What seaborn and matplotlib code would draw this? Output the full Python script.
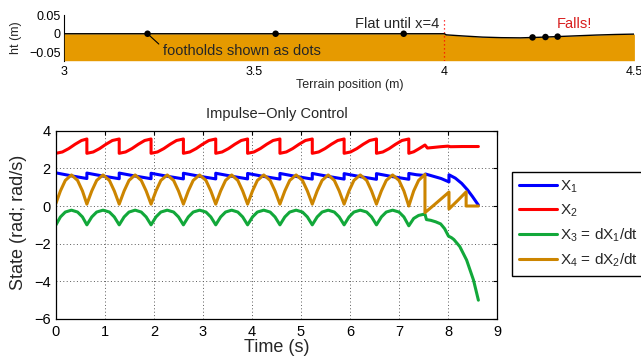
import matplotlib
matplotlib.use("Agg")
import matplotlib.pyplot as plt
import seaborn as sns

# ---------------- terrain panel data ----------------
terrain_x = [3.00, 4.00, 4.005, 4.05, 4.10, 4.15, 4.20, 4.25, 4.30, 4.35, 4.40, 4.45, 4.50]
terrain_y = [0.0, 0.0, -0.003, -0.006, -0.009, -0.0105, -0.011, -0.0095, -0.0075, -0.0055, -0.0035, -0.002, -0.001]
foot_x = [3.219, 3.556, 3.893, 4.232, 4.266, 4.298]
foot_y = [0.0, 0.0, 0.0, -0.0098, -0.0088, -0.0077]
terrain_xticks = [3, 3.5, 4, 4.5]
terrain_xticklabels = ["3", "3.5", "4", "4.5"]
terrain_yticks = [-0.05, 0, 0.05]
terrain_yticklabels = ["\u22120.05", "0", "0.05"]

# ---------------- state panel data ----------------
# X1 (blue)
t_x1 = [0.00, 0.32, 0.63, 0.63,
        0.96, 1.29, 1.29,
        1.62, 1.94, 1.94,
        2.27, 2.60, 2.60,
        2.93, 3.26, 3.26,
        3.59, 3.91, 3.91,
        4.24, 4.57, 4.57,
        4.90, 5.23, 5.23,
        5.56, 5.88, 5.88,
        6.21, 6.54, 6.54,
        6.87, 7.20, 7.20,
        7.36, 7.53, 7.54, 7.70, 7.86, 8.02, 8.02, 8.15, 8.28, 8.40, 8.50, 8.62]
x1 = [1.76, 1.60, 1.46, 1.75,
      1.59, 1.45, 1.75,
      1.59, 1.45, 1.74,
      1.58, 1.44, 1.74,
      1.58, 1.44, 1.74,
      1.58, 1.44, 1.73,
      1.57, 1.43, 1.73,
      1.57, 1.43, 1.73,
      1.57, 1.43, 1.72,
      1.56, 1.42, 1.72,
      1.56, 1.42, 1.73,
      1.66, 1.62, 1.70, 1.58, 1.46, 1.28, 1.66, 1.48, 1.20, 0.85, 0.50, 0.05]

# X2 (red)
t_x2 = [0.00, 0.13, 0.26, 0.39, 0.52, 0.63, 0.63,
        0.76, 0.89, 1.02, 1.15, 1.29, 1.29,
        1.42, 1.55, 1.68, 1.81, 1.94, 1.94,
        2.07, 2.20, 2.33, 2.46, 2.60, 2.60,
        2.73, 2.86, 2.99, 3.12, 3.26, 3.26,
        3.39, 3.52, 3.65, 3.78, 3.91, 3.91,
        4.04, 4.17, 4.30, 4.43, 4.57, 4.57,
        4.70, 4.83, 4.96, 5.09, 5.23, 5.23,
        5.36, 5.49, 5.62, 5.75, 5.88, 5.88,
        6.01, 6.14, 6.27, 6.40, 6.54, 6.54,
        6.67, 6.80, 6.93, 7.06, 7.20, 7.20,
        7.30, 7.40, 7.53, 7.58, 7.70, 7.85, 8.00, 8.05, 8.30, 8.62]
x2 = [2.80, 2.87, 3.05, 3.28, 3.48, 3.56, 2.80,
      2.87, 3.05, 3.28, 3.48, 3.56, 2.80,
      2.87, 3.05, 3.28, 3.48, 3.56, 2.80,
      2.87, 3.05, 3.28, 3.48, 3.56, 2.80,
      2.87, 3.05, 3.28, 3.48, 3.56, 2.80,
      2.87, 3.05, 3.28, 3.48, 3.56, 2.80,
      2.87, 3.05, 3.28, 3.48, 3.56, 2.80,
      2.87, 3.05, 3.28, 3.48, 3.56, 2.80,
      2.87, 3.05, 3.28, 3.48, 3.56, 2.80,
      2.87, 3.05, 3.28, 3.48, 3.56, 2.80,
      2.87, 3.05, 3.28, 3.48, 3.56, 2.80,
      2.88, 3.03, 3.24, 3.08, 3.11, 3.15, 3.18, 3.15, 3.16, 3.16]

# shared time samples of the periodic arches of X3 and X4
t_arch = [0.00, 0.09, 0.19, 0.315, 0.44, 0.54, 0.63,
          0.73, 0.83, 0.96, 1.09, 1.19, 1.29,
          1.39, 1.49, 1.615, 1.74, 1.84, 1.94,
          2.04, 2.14, 2.27, 2.40, 2.50, 2.60,
          2.70, 2.80, 2.93, 3.06, 3.16, 3.26,
          3.36, 3.46, 3.585, 3.71, 3.81, 3.91,
          4.01, 4.11, 4.24, 4.37, 4.47, 4.57,
          4.67, 4.77, 4.90, 5.03, 5.13, 5.23,
          5.33, 5.43, 5.555, 5.68, 5.78, 5.88,
          5.98, 6.08, 6.21, 6.34, 6.44, 6.54,
          6.64, 6.74, 6.87, 7.00, 7.10, 7.20]

# X3 (green)
x3_arch = [-1.00, -0.58, -0.32, -0.22, -0.32, -0.58, -1.00,
           -0.58, -0.32, -0.22, -0.32, -0.58, -1.00,
           -0.58, -0.32, -0.22, -0.32, -0.58, -1.00,
           -0.58, -0.32, -0.22, -0.32, -0.58, -1.00,
           -0.58, -0.32, -0.22, -0.32, -0.58, -1.00,
           -0.58, -0.32, -0.22, -0.32, -0.58, -1.00,
           -0.58, -0.32, -0.22, -0.32, -0.58, -1.00,
           -0.58, -0.32, -0.22, -0.32, -0.58, -1.00,
           -0.58, -0.32, -0.22, -0.32, -0.58, -1.00,
           -0.58, -0.32, -0.22, -0.32, -0.58, -1.00,
           -0.58, -0.32, -0.22, -0.32, -0.58, -1.05]
t_x3_tail = [7.30, 7.40, 7.50, 7.53, 7.56, 7.65, 7.75, 7.85, 7.93, 8.01, 8.07, 8.12, 8.24, 8.38, 8.52, 8.62]
x3_tail = [-0.66, -0.50, -0.44, -0.43, -0.72, -0.76, -0.84, -0.95, -1.20, -1.60, -1.68, -1.78, -2.15, -2.87, -3.93, -5.00]

# X4 (orange)
x4_arch = [0.15, 0.80, 1.36, 1.65, 1.36, 0.80, 0.10,
           0.80, 1.36, 1.65, 1.36, 0.80, 0.10,
           0.80, 1.36, 1.65, 1.36, 0.80, 0.10,
           0.80, 1.36, 1.65, 1.36, 0.80, 0.10,
           0.80, 1.36, 1.65, 1.36, 0.80, 0.10,
           0.80, 1.36, 1.65, 1.36, 0.80, 0.10,
           0.80, 1.36, 1.65, 1.36, 0.80, 0.10,
           0.80, 1.36, 1.65, 1.36, 0.80, 0.10,
           0.80, 1.36, 1.65, 1.36, 0.80, 0.10,
           0.80, 1.36, 1.65, 1.36, 0.80, 0.10,
           0.80, 1.36, 1.65, 1.36, 0.80, 0.00]
t_x4_tail = [7.30, 7.40, 7.53, 7.53, 7.70, 7.86, 8.02, 8.02, 8.20, 8.37, 8.37, 8.62]
x4_tail = [0.80, 1.36, 1.68, -0.35, 0.02, 0.38, 0.74, -0.16, 0.30, 0.75, 0.00, 0.00]

series_labels = [r"$X_1$", r"$X_2$", r"$X_3$ = d$X_1$/dt", r"$X_4$ = d$X_2$/dt"]
state_xticks = [0, 1, 2, 3, 4, 5, 6, 7, 8, 9]
state_yticks = [-6, -4, -2, 0, 2, 4]

# ---------------- style ----------------
sns.set_style("white")
plt.rcParams["font.family"] = ["Liberation Sans", "DejaVu Sans"]
plt.rcParams["mathtext.fontset"] = "custom"
plt.rcParams["mathtext.rm"] = "Liberation Sans"
plt.rcParams["mathtext.it"] = "Liberation Sans"
plt.rcParams["mathtext.default"] = "regular"
plt.rcParams["axes.unicode_minus"] = True

BLUE = "#0000FF"
RED = "#FF0000"
GREEN = "#12A83A"
ORANGE = "#CC8500"
FILL = "#E69A00"
TEXT_RED = "#D81E1E"

W, H = 641, 360
fig = plt.figure(figsize=(W / 100, H / 100), dpi=100)


def px_rect(l, t, r, b):
    return [l / W, 1 - b / H, (r - l) / W, (b - t) / H]


# ---------------- terrain panel ----------------
axt = fig.add_axes(px_rect(64.3, 15, 634.4, 60.7))
YB = -0.072
axt.set_xlim(3, 4.5)
axt.set_ylim(YB, 0.05)
axt.fill_between(terrain_x, terrain_y, YB, color=FILL, lw=0, zorder=1)
axt.vlines(4.0, YB, 0.04, colors=RED, linestyles=(0, (1, 2.2)), lw=0.9, zorder=2)
sns.lineplot(x=terrain_x, y=terrain_y, ax=axt, estimator=None, sort=False,
             color="k", lw=1.0, zorder=3)
sns.scatterplot(x=foot_x, y=foot_y, ax=axt, color="k", s=22, edgecolor="none",
                zorder=4, legend=False)
axt.text(3.987, 0.027, "Flat until x=4", ha="right", va="center", fontsize=10.5)
axt.text(4.296, 0.027, "Falls!", ha="left", va="center", fontsize=10.5, color=TEXT_RED)
axt.annotate("footholds shown as dots", xy=(3.219, 0.0), xytext=(3.260, -0.0455),
             ha="left", va="center", fontsize=10.5,
             arrowprops=dict(arrowstyle="-", color="k", lw=0.8, relpos=(0, 0.7),
                             shrinkA=1, shrinkB=0))
for s in ["top", "right", "bottom"]:
    axt.spines[s].set_visible(False)
axt.spines["left"].set_linewidth(0.8)
axt.spines["left"].set_color("k")
axt.spines["left"].set_zorder(0.5)
axt.set_axisbelow(True)
axt.set_xticks(terrain_xticks)
axt.set_xticklabels(terrain_xticklabels)
axt.set_yticks(terrain_yticks)
axt.set_yticklabels(terrain_yticklabels)
axt.tick_params(axis="y", direction="in", length=4, width=0.8, labelsize=9, pad=2.5, colors="k")
axt.tick_params(axis="x", length=0, labelsize=9, pad=3.5, colors="k")
axt.set_xlabel("Terrain position (m)", fontsize=9)
axt.xaxis.set_label_coords(0.5, -0.40)
axt.set_ylabel("ht (m)", fontsize=9)
axt.yaxis.set_label_coords(-0.0747, 0.5)

# ---------------- state panel ----------------
ax = fig.add_axes(px_rect(56, 130.7, 497, 319))
sns.lineplot(x=t_x1, y=x1, ax=ax, estimator=None, sort=False, color=BLUE, lw=2.2)
sns.lineplot(x=t_x2, y=x2, ax=ax, estimator=None, sort=False, color=RED, lw=2.2)
sns.lineplot(x=t_arch + t_x3_tail, y=x3_arch + x3_tail, ax=ax, estimator=None,
             sort=False, color=GREEN, lw=2.2)
sns.lineplot(x=t_arch + t_x4_tail, y=x4_arch + x4_tail, ax=ax, estimator=None,
             sort=False, color=ORANGE, lw=2.2)
ax.set_xlim(0, 9)
ax.set_ylim(-6, 4)
ax.set_xticks(state_xticks)
ax.set_yticks(state_yticks)
ax.grid(True, linestyle=(0, (1, 2.5)), color="0.35", lw=0.7)
for s in ax.spines.values():
    s.set_visible(True)
    s.set_color("k")
    s.set_linewidth(0.9)
ax.tick_params(direction="in", top=True, right=True, length=3, width=0.8,
               labelsize=10.5, pad=4, colors="k")
ax.set_xlabel("Time (s)", fontsize=13)
ax.xaxis.set_label_coords(0.5, -0.108)
ax.set_ylabel("State (rad; rad/s)", fontsize=13)
ax.yaxis.set_label_coords(-0.066, 0.515)
ax.set_title("Impulse\u2212Only Control", fontsize=10.5, pad=9)

handles = ax.get_lines()[:4]
leg = fig.legend(handles, series_labels, loc="upper left",
                 bbox_to_anchor=(512 / W, 1 - 171.7 / H), frameon=True, fancybox=False,
                 edgecolor="k", framealpha=1, fontsize=11, handlelength=2.5,
                 handletextpad=0.2, labelspacing=0.5, borderpad=0.45, borderaxespad=0)
leg.get_frame().set_linewidth(1.0)

fig.savefig("out.png", dpi=100)
